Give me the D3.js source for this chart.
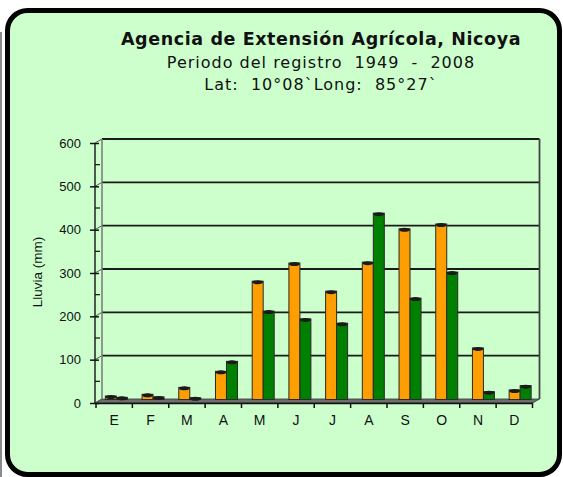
<!DOCTYPE html>
<html>
<head>
<meta charset="utf-8">
<script src="https://cdn.jsdelivr.net/npm/d3@7"></script>
<style>
  body { margin: 0; background: #ffffff; }
  text { white-space: pre; }
</style>
</head>
<body>
<div id="grafico"></div>
<script>
// Datos de lluvia mensual (mm)
var meses = ["E", "F", "M", "A", "M", "J", "J", "A", "S", "O", "N", "D"];
var serieNaranja = [8, 12, 28, 65, 273, 315, 250, 317, 394, 405, 119, 22];
var serieVerde = [5, 6, 4, 88, 204, 186, 176, 430, 234, 294, 18, 32];
var ticksY = [0, 100, 200, 300, 400, 500, 600];
var titulos = ["Agencia de Extensión Agrícola, Nicoya",
               "Periodo del registro  1949  -  2008",
               "Lat:  10°08`Long:  85°27`"];

var width = 563, height = 477;
var prof = {dx: 7, dy: -4}; // profundidad del efecto 3D

var svg = d3.select("#grafico")
    .append("svg")
    .attr("width", width)
    .attr("height", height);

// Marco
svg.append("line")
    .attr("x1", 1).attr("x2", 1).attr("y1", 32).attr("y2", height)
    .attr("stroke", "#8a8a8a").attr("stroke-width", 2);
svg.append("rect")
    .attr("x", 7.5).attr("y", 10.5)
    .attr("width", 552).attr("height", 464)
    .attr("rx", 20)
    .attr("fill", "#ccffcc")
    .attr("stroke", "#000")
    .attr("stroke-width", 5);

// Titulos
svg.selectAll(".titulo")
    .data(titulos)
    .enter()
    .append("text")
    .attr("x", 321)
    .attr("y", (d, i) => [45, 68, 90][i])
    .attr("text-anchor", "middle")
    .attr("font-family", "DejaVu Sans, Verdana, sans-serif")
    .attr("font-size", (d, i) => i == 0 ? 17.5 : 16)
    .attr("letter-spacing", (d, i) => i == 0 ? 0.6 : 1)
    .attr("font-weight", (d, i) => i == 0 ? "bold" : "normal")
    .attr("fill", "#111")
    .text(d => d);

// Escalas
var idx = d3.range(meses.length);
var xFrente = d3.scaleBand().domain(idx).range([96, 532.5]);
var xBarras = d3.scaleBand().domain(idx).range([98, 538.5]);
var xSerie = d3.scaleBand().domain([0, 1]).range([0, 22]);
var yFrente = d3.scaleLinear().domain([0, 600]).range([403, 143]);
var yFondo = d3.scaleLinear().domain([0, 600]).range([403 + prof.dy, 143 + prof.dy]);

var x0 = xFrente.range()[0] - 1, x1 = xFrente.range()[1];

// Piso
svg.append("path")
    .attr("d", "M" + x0 + "," + yFrente(0) + "L" + x1 + "," + yFrente(0) +
               "L" + (x1 + prof.dx) + "," + yFondo(0) + "L" + (x0 + prof.dx) + "," + yFondo(0) + "Z")
    .attr("fill", "#6e6e6e")
    .attr("stroke", "#333")
    .attr("stroke-width", 0.8);

// Pared del fondo: lineas de cuadricula
svg.selectAll(".grid")
    .data(ticksY.filter(d => d > 0))
    .enter()
    .append("line")
    .attr("x1", x0 + prof.dx).attr("x2", x1 + prof.dx)
    .attr("y1", d => yFondo(d)).attr("y2", d => yFondo(d))
    .attr("stroke", "#1a1a1a")
    .attr("stroke-width", 1.8);

svg.selectAll(".diag")
    .data(ticksY)
    .enter()
    .append("line")
    .attr("x1", x0).attr("x2", x0 + prof.dx)
    .attr("y1", d => yFrente(d)).attr("y2", d => yFondo(d))
    .attr("stroke", "#555")
    .attr("stroke-width", 1);

// Bordes laterales de la pared
svg.append("line")
    .attr("x1", x0 + prof.dx).attr("x2", x0 + prof.dx)
    .attr("y1", yFondo(600)).attr("y2", yFondo(0))
    .attr("stroke", "#777").attr("stroke-width", 1.5);
svg.append("line")
    .attr("x1", x1 + prof.dx).attr("x2", x1 + prof.dx)
    .attr("y1", yFondo(600)).attr("y2", yFondo(0))
    .attr("stroke", "#444").attr("stroke-width", 1.8);

// Barras
var series = [serieNaranja, serieVerde];
var colores = ["#ff9e00", "#008000"];
var yBarra = d3.scaleLinear().domain([0, 600]).range([399.5, 139.5]);

series.forEach(function(serie, s) {
    var g = svg.append("g");
    g.selectAll(".barra")
        .data(serie)
        .enter()
        .append("rect")
        .attr("x", (d, i) => xBarras(i) + xBarras.bandwidth() / 2 - 11 + xSerie(s))
        .attr("y", d => yBarra(d))
        .attr("width", xSerie.bandwidth())
        .attr("height", d => yBarra(0) - yBarra(d))
        .attr("fill", colores[s])
        .attr("stroke", "#2a2a2a")
        .attr("stroke-width", 1);
    g.selectAll(".tapa")
        .data(serie)
        .enter()
        .append("ellipse")
        .attr("cx", (d, i) => xBarras(i) + xBarras.bandwidth() / 2 - 11 + xSerie(s) + xSerie.bandwidth() / 2)
        .attr("cy", d => yBarra(d) + 1)
        .attr("rx", xSerie.bandwidth() / 2)
        .attr("ry", 2)
        .attr("fill", "#1a1a1a");
});

// Eje Y
svg.append("line")
    .attr("x1", x0).attr("x2", x0)
    .attr("y1", yFrente(600)).attr("y2", yFrente(0))
    .attr("stroke", "#222").attr("stroke-width", 1.5);

var ejeY = svg.append("g")
    .attr("transform", "translate(" + x0 + ",0)")
    .call(d3.axisLeft(yFrente).tickValues(ticksY).tickSize(5).tickPadding(9));
ejeY.select(".domain").remove();
ejeY.selectAll(".tick line").attr("x2", 4).attr("x1", -5).attr("stroke", "#111").attr("stroke-width", 1.5);
ejeY.selectAll(".tick text")
    .attr("font-family", "Liberation Sans, Arial, sans-serif")
    .attr("font-size", 13)
    .attr("fill", "#111");

svg.selectAll(".menor")
    .data(d3.range(50, 600, 100))
    .enter()
    .append("line")
    .attr("x1", x0).attr("x2", x0 + 5)
    .attr("y1", d => yFrente(d)).attr("y2", d => yFrente(d))
    .attr("stroke", "#111").attr("stroke-width", 1.2);

// Eje X
var ejeX = svg.append("g")
    .attr("transform", "translate(0," + yFrente(0) + ")")
    .call(d3.axisBottom(xFrente).tickFormat(i => meses[i]).tickSize(0).tickPadding(12));
ejeX.select(".domain").attr("stroke", "#111").attr("stroke-width", 1.5);
ejeX.selectAll(".tick text")
    .attr("font-family", "Liberation Sans, Arial, sans-serif")
    .attr("font-size", 14)
    .attr("fill", "#111");

svg.selectAll(".tickx")
    .data(d3.range(meses.length + 1))
    .enter()
    .append("line")
    .attr("x1", i => x0 + 1 + i * xFrente.step())
    .attr("x2", i => x0 + 1 + i * xFrente.step())
    .attr("y1", yFrente(0)).attr("y2", yFrente(0) + 5)
    .attr("stroke", "#111").attr("stroke-width", 1.5);

// Titulo eje Y
svg.append("text")
    .attr("transform", "translate(42,272) rotate(-90)")
    .attr("text-anchor", "middle")
    .attr("font-family", "Liberation Sans, Arial, sans-serif")
    .attr("font-size", 13.5)
    .attr("fill", "#111")
    .text("Lluvia (mm)");
</script>
</body>
</html>
